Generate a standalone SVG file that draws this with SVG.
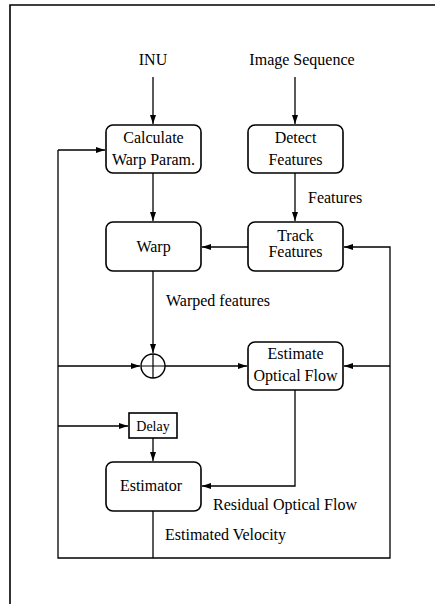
<svg xmlns="http://www.w3.org/2000/svg" width="435" height="604" viewBox="0 0 435 604">
<style>
text{font-family:"Liberation Serif","Times New Roman",serif;font-size:16px;fill:#000}
.c{text-anchor:middle}
.box{fill:#fff;stroke:#000;stroke-width:1.6}
.ln{fill:none;stroke:#000;stroke-width:1.3}
</style>
<defs>
<marker id="ah" markerWidth="9" markerHeight="6" refX="9" refY="3" orient="auto" markerUnits="userSpaceOnUse">
<path d="M0,0 L9,3 L0,6 Z" fill="#000"/>
</marker>
</defs>
<rect width="435" height="604" fill="#fff"/>
<g id="frame" class="ln" stroke-width="1.6">
<path d="M435,5 H10 V604" fill="none" stroke="#000" stroke-width="1.6"/>
</g>
<g id="connectors">
<path class="ln" d="M153,77 V124" marker-end="url(#ah)"/>
<path class="ln" d="M295,77 V124" marker-end="url(#ah)"/>
<path class="ln" d="M153,173 V221" marker-end="url(#ah)"/>
<path class="ln" d="M295,173 V221" marker-end="url(#ah)"/>
<path class="ln" d="M248,247 H202" marker-end="url(#ah)"/>
<path class="ln" d="M153,271 V353" marker-end="url(#ah)"/>
<path class="ln" d="M58,366 H140" marker-end="url(#ah)"/>
<path class="ln" d="M165,366 H247" marker-end="url(#ah)"/>
<path class="ln" d="M58,150 H105" marker-end="url(#ah)"/>
<path class="ln" d="M58,150 V558 H390 V247 H344" marker-end="url(#ah)"/>
<path class="ln" d="M390,366 H344" marker-end="url(#ah)"/>
<path class="ln" d="M58,426 H128" marker-end="url(#ah)"/>
<path class="ln" d="M153,438 V461" marker-end="url(#ah)"/>
<path class="ln" d="M295,390 V486 H202" marker-end="url(#ah)"/>
<path class="ln" d="M153,511 V558"/>
</g>
<g id="inu"><text class="c" x="153" y="65">INU</text></g>
<g id="imgseq"><text class="c" x="302" y="65">Image Sequence</text></g>
<g id="calc">
<rect class="box" x="106" y="125" width="95" height="48" rx="7"/>
<text class="c" x="153.5" y="143">Calculate</text>
<text class="c" x="153.5" y="165">Warp Param.</text>
</g>
<g id="detect">
<rect class="box" x="248" y="125" width="95" height="48" rx="7"/>
<text class="c" x="295.5" y="143">Detect</text>
<text class="c" x="295.5" y="165">Features</text>
</g>
<g id="lbl-features"><text x="308" y="203">Features</text></g>
<g id="warp">
<rect class="box" x="106" y="222" width="95" height="49" rx="7"/>
<text class="c" x="153.5" y="252">Warp</text>
</g>
<g id="track">
<rect class="box" x="248" y="222" width="95" height="49" rx="7"/>
<text class="c" x="295.5" y="241">Track</text>
<text class="c" x="295.5" y="257">Features</text>
</g>
<g id="lbl-warped"><text x="166" y="306">Warped features</text></g>
<g id="sum">
<circle cx="153" cy="366" r="12" fill="#fff" stroke="#000" stroke-width="1.4"/>
<path d="M141,366 H165 M153,354 V378" stroke="#000" stroke-width="1.2"/>
</g>
<g id="estof">
<rect class="box" x="248" y="342" width="95" height="48" rx="7"/>
<text class="c" x="295.5" y="359">Estimate</text>
<text class="c" x="295.5" y="381">Optical Flow</text>
</g>
<g id="delay">
<rect class="box" x="129" y="413" width="48" height="25"/>
<text class="c" x="153" y="431" style="font-size:14px">Delay</text>
</g>
<g id="estimator">
<rect class="box" x="106" y="462" width="95" height="49" rx="7"/>
<text class="c" x="151" y="491">Estimator</text>
</g>
<g id="lbl-resid"><text x="213" y="510">Residual Optical Flow</text></g>
<g id="lbl-vel"><text x="165" y="540">Estimated Velocity</text></g>
</svg>
